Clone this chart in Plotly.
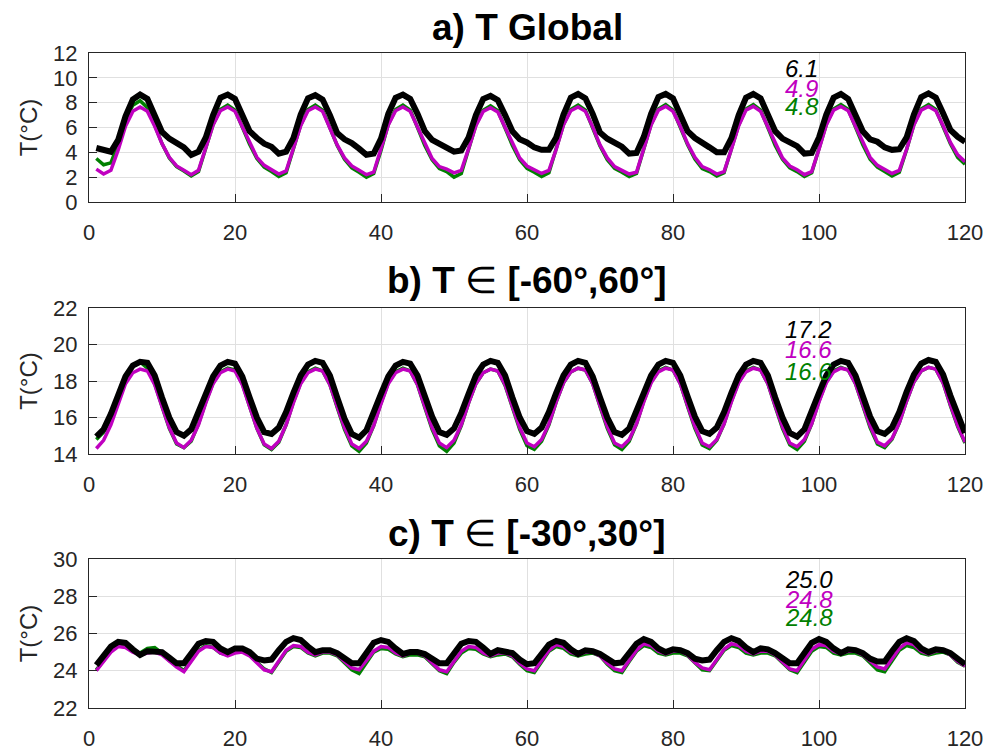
import plotly.graph_objects as go

# ---------------------------------------------------------------------------
# Monthly mean temperature (°C), 10 years x 12 months, three averaging regions
# Series: black = reference, magenta = run M, green = run G
# ---------------------------------------------------------------------------
months = list(range(1, 121))

glob_black = [
    4.35, 4.15, 4.05, 5.00, 6.90, 8.25, 8.65, 8.30, 7.10, 5.65, 5.10, 4.80,
    4.40, 3.80, 4.05, 5.20, 7.00, 8.40, 8.65, 8.30, 7.05, 5.70, 5.15, 4.70,
    4.45, 3.90, 4.05, 5.15, 7.05, 8.35, 8.60, 8.25, 7.00, 5.55, 5.05, 4.75,
    4.30, 3.80, 3.90, 5.10, 7.10, 8.40, 8.65, 8.30, 7.10, 5.70, 5.00, 4.70,
    4.45, 4.05, 4.15, 5.20, 7.00, 8.30, 8.55, 8.20, 7.00, 5.70, 5.05, 4.80,
    4.40, 4.20, 4.20, 5.20, 7.05, 8.40, 8.70, 8.35, 7.10, 5.60, 5.10, 4.75,
    4.45, 3.90, 3.95, 5.25, 7.10, 8.45, 8.70, 8.35, 7.15, 5.70, 5.15, 4.70,
    4.40, 4.00, 4.00, 5.15, 7.00, 8.40, 8.70, 8.35, 7.05, 5.70, 5.10, 4.80,
    4.50, 3.90, 3.95, 5.20, 7.05, 8.40, 8.70, 8.30, 7.10, 5.70, 5.05, 4.85,
    4.40, 4.20, 4.25, 5.20, 7.05, 8.45, 8.75, 8.40, 7.15, 5.80, 5.25, 4.85,
]
glob_magenta = [
    2.65, 2.25, 2.55, 4.20, 6.10, 7.30, 7.65, 7.30, 6.10, 4.70, 3.60, 2.90,
    2.55, 2.20, 2.55, 4.30, 6.20, 7.35, 7.65, 7.30, 6.05, 4.70, 3.60, 2.95,
    2.60, 2.25, 2.50, 4.25, 6.15, 7.35, 7.65, 7.30, 6.00, 4.60, 3.55, 2.90,
    2.55, 2.20, 2.40, 4.20, 6.20, 7.35, 7.65, 7.30, 6.05, 4.65, 3.50, 2.85,
    2.65, 2.35, 2.55, 4.30, 6.15, 7.30, 7.60, 7.25, 6.00, 4.65, 3.55, 2.90,
    2.60, 2.30, 2.55, 4.25, 6.20, 7.35, 7.65, 7.30, 6.05, 4.60, 3.55, 2.85,
    2.55, 2.25, 2.40, 4.25, 6.20, 7.40, 7.70, 7.30, 6.10, 4.70, 3.60, 2.85,
    2.60, 2.25, 2.45, 4.25, 6.15, 7.40, 7.70, 7.30, 6.05, 4.65, 3.55, 2.90,
    2.60, 2.20, 2.45, 4.25, 6.20, 7.40, 7.70, 7.35, 6.10, 4.70, 3.60, 2.95,
    2.60, 2.30, 2.55, 4.25, 6.20, 7.40, 7.70, 7.35, 6.15, 4.80, 3.80, 3.25,
]
glob_green = [
    3.50, 3.00, 3.15, 4.70, 6.60, 7.80, 8.15, 7.60, 6.20, 4.70, 3.55, 2.85,
    2.50, 2.10, 2.45, 4.25, 6.25, 7.45, 7.80, 7.40, 6.05, 4.65, 3.50, 2.80,
    2.45, 2.05, 2.35, 4.20, 6.20, 7.45, 7.80, 7.40, 6.00, 4.55, 3.45, 2.75,
    2.40, 2.00, 2.30, 4.15, 6.25, 7.45, 7.80, 7.40, 6.00, 4.55, 3.40, 2.70,
    2.45, 2.00, 2.30, 4.20, 6.20, 7.40, 7.75, 7.35, 5.95, 4.55, 3.40, 2.70,
    2.40, 2.05, 2.35, 4.20, 6.25, 7.45, 7.80, 7.40, 6.00, 4.50, 3.40, 2.70,
    2.40, 2.05, 2.30, 4.20, 6.25, 7.50, 7.85, 7.40, 6.05, 4.60, 3.45, 2.70,
    2.45, 2.10, 2.35, 4.20, 6.20, 7.50, 7.85, 7.40, 6.00, 4.55, 3.45, 2.75,
    2.45, 2.05, 2.35, 4.20, 6.25, 7.50, 7.85, 7.45, 6.05, 4.60, 3.45, 2.80,
    2.45, 2.10, 2.40, 4.20, 6.25, 7.50, 7.85, 7.45, 6.05, 4.70, 3.60, 3.05,
]

lat60_black = [
    14.95, 15.35, 16.20, 17.30, 18.25, 18.85, 19.05, 19.00, 18.30, 17.10, 16.00, 15.20,
    15.00, 15.35, 16.25, 17.30, 18.25, 18.85, 19.05, 18.95, 18.25, 17.10, 16.00, 15.20,
    15.10, 15.45, 16.30, 17.35, 18.30, 18.90, 19.10, 19.00, 18.30, 17.10, 15.95, 15.10,
    14.90, 15.30, 16.20, 17.30, 18.25, 18.85, 19.05, 18.95, 18.30, 17.15, 16.05, 15.20,
    15.05, 15.40, 16.25, 17.30, 18.30, 18.90, 19.10, 19.00, 18.30, 17.10, 16.00, 15.25,
    15.10, 15.45, 16.30, 17.35, 18.30, 18.90, 19.10, 19.00, 18.25, 17.10, 16.00, 15.20,
    15.05, 15.40, 16.30, 17.35, 18.30, 18.90, 19.10, 19.00, 18.30, 17.15, 16.05, 15.25,
    15.10, 15.45, 16.30, 17.35, 18.30, 18.90, 19.10, 19.00, 18.30, 17.10, 16.00, 15.15,
    14.95, 15.35, 16.25, 17.35, 18.30, 18.90, 19.10, 19.00, 18.30, 17.15, 16.05, 15.25,
    15.10, 15.45, 16.30, 17.40, 18.35, 18.95, 19.15, 19.05, 18.35, 17.20, 16.10, 15.15,
]
lat60_magenta = [
    14.30, 14.75, 15.60, 16.80, 17.85, 18.45, 18.65, 18.55, 17.80, 16.60, 15.45, 14.60,
    14.35, 14.75, 15.60, 16.80, 17.85, 18.45, 18.65, 18.55, 17.80, 16.60, 15.40, 14.55,
    14.30, 14.70, 15.60, 16.80, 17.85, 18.45, 18.65, 18.55, 17.80, 16.60, 15.45, 14.55,
    14.30, 14.70, 15.55, 16.75, 17.85, 18.45, 18.65, 18.55, 17.80, 16.60, 15.45, 14.60,
    14.35, 14.75, 15.60, 16.80, 17.85, 18.45, 18.65, 18.55, 17.80, 16.60, 15.45, 14.60,
    14.40, 14.80, 15.65, 16.85, 17.90, 18.50, 18.70, 18.60, 17.85, 16.65, 15.50, 14.60,
    14.40, 14.80, 15.65, 16.85, 17.90, 18.50, 18.70, 18.60, 17.85, 16.65, 15.50, 14.60,
    14.40, 14.80, 15.65, 16.85, 17.90, 18.50, 18.70, 18.60, 17.85, 16.65, 15.50, 14.60,
    14.40, 14.80, 15.65, 16.85, 17.90, 18.50, 18.70, 18.60, 17.85, 16.70, 15.55, 14.65,
    14.45, 14.85, 15.70, 16.90, 17.95, 18.55, 18.75, 18.65, 17.90, 16.70, 15.55, 14.65,
]
lat60_green = [
    14.80, 15.20, 16.00, 17.10, 18.30, 18.90, 19.05, 18.70, 17.85, 16.60, 15.40, 14.55,
    14.35, 14.70, 15.65, 16.85, 17.90, 18.50, 18.70, 18.60, 17.85, 16.60, 15.40, 14.50,
    14.25, 14.65, 15.60, 16.85, 17.90, 18.50, 18.70, 18.55, 17.80, 16.55, 15.35, 14.45,
    14.15, 14.60, 15.55, 16.80, 17.90, 18.50, 18.70, 18.55, 17.80, 16.55, 15.35, 14.45,
    14.15, 14.60, 15.55, 16.80, 17.85, 18.45, 18.65, 18.55, 17.75, 16.55, 15.35, 14.45,
    14.25, 14.70, 15.60, 16.85, 17.90, 18.50, 18.70, 18.60, 17.85, 16.60, 15.40, 14.50,
    14.25, 14.70, 15.65, 16.90, 17.95, 18.55, 18.75, 18.60, 17.85, 16.60, 15.40, 14.50,
    14.30, 14.75, 15.65, 16.90, 17.95, 18.55, 18.75, 18.60, 17.85, 16.60, 15.40, 14.50,
    14.25, 14.70, 15.65, 16.90, 17.95, 18.55, 18.75, 18.60, 17.85, 16.65, 15.45, 14.55,
    14.35, 14.80, 15.70, 16.90, 17.95, 18.55, 18.75, 18.65, 17.90, 16.65, 15.50, 14.60,
]

lat30_black = [
    24.30, 24.75, 25.30, 25.55, 25.50, 25.15, 24.85, 25.05, 25.05, 25.00, 24.70, 24.40,
    24.40, 24.95, 25.45, 25.60, 25.55, 25.20, 25.00, 25.20, 25.20, 25.00, 24.65, 24.55,
    24.60, 25.10, 25.55, 25.75, 25.65, 25.30, 25.00, 25.10, 25.10, 24.95, 24.65, 24.40,
    24.40, 24.95, 25.50, 25.65, 25.55, 25.20, 24.90, 25.00, 25.00, 24.90, 24.60, 24.40,
    24.40, 24.95, 25.45, 25.60, 25.55, 25.25, 24.90, 25.10, 25.05, 24.95, 24.60, 24.35,
    24.40, 24.95, 25.40, 25.60, 25.50, 25.15, 24.90, 25.10, 25.05, 24.90, 24.60, 24.40,
    24.45, 25.00, 25.45, 25.70, 25.55, 25.20, 25.00, 25.15, 25.10, 24.95, 24.65, 24.55,
    24.60, 25.10, 25.55, 25.75, 25.60, 25.25, 25.00, 25.20, 25.15, 24.95, 24.65, 24.40,
    24.40, 25.00, 25.50, 25.70, 25.55, 25.20, 24.95, 25.15, 25.10, 24.95, 24.65, 24.50,
    24.50, 25.05, 25.55, 25.75, 25.60, 25.20, 25.00, 25.15, 25.10, 24.95, 24.65, 24.35,
]
lat30_magenta = [
    24.00, 24.50, 25.00, 25.30, 25.25, 25.00, 24.85, 24.95, 25.00, 24.85, 24.50, 24.20,
    23.95, 24.50, 25.05, 25.30, 25.25, 24.95, 24.80, 24.95, 25.00, 24.80, 24.40, 24.05,
    23.95, 24.55, 25.10, 25.35, 25.30, 25.00, 24.85, 25.00, 25.00, 24.85, 24.50, 24.15,
    24.05, 24.55, 25.05, 25.30, 25.25, 24.95, 24.80, 24.95, 24.95, 24.80, 24.40, 24.05,
    23.95, 24.50, 25.05, 25.30, 25.25, 24.95, 24.80, 24.95, 24.95, 24.80, 24.40, 24.10,
    24.00, 24.55, 25.10, 25.40, 25.30, 25.00, 24.85, 25.00, 25.00, 24.80, 24.40, 24.10,
    24.00, 24.55, 25.10, 25.45, 25.35, 25.05, 24.90, 25.05, 25.05, 24.85, 24.45, 24.15,
    24.05, 24.60, 25.15, 25.45, 25.35, 25.05, 24.90, 25.05, 25.05, 24.85, 24.45, 24.10,
    24.00, 24.60, 25.15, 25.40, 25.35, 25.05, 24.90, 25.05, 25.05, 24.85, 24.50, 24.20,
    24.10, 24.65, 25.20, 25.50, 25.40, 25.05, 24.90, 25.05, 25.10, 24.85, 24.50, 24.25,
]
lat30_green = [
    24.05, 24.55, 25.05, 25.35, 25.30, 25.05, 24.95, 25.20, 25.25, 24.95, 24.55, 24.30,
    24.00, 24.55, 25.10, 25.35, 25.25, 24.95, 24.85, 25.05, 25.10, 24.85, 24.45, 24.10,
    23.90, 24.50, 25.05, 25.30, 25.25, 24.95, 24.80, 24.95, 24.95, 24.80, 24.40, 24.05,
    23.85, 24.45, 25.00, 25.20, 25.15, 24.90, 24.75, 24.85, 24.85, 24.75, 24.35, 24.00,
    23.85, 24.45, 24.95, 25.20, 25.15, 24.90, 24.75, 24.85, 24.90, 24.75, 24.35, 24.00,
    23.90, 24.50, 25.05, 25.30, 25.20, 24.90, 24.80, 24.90, 24.95, 24.80, 24.35, 24.00,
    23.90, 24.50, 25.05, 25.35, 25.25, 24.95, 24.85, 24.95, 24.95, 24.80, 24.40, 24.05,
    24.00, 24.55, 25.10, 25.35, 25.25, 24.95, 24.85, 24.95, 24.95, 24.80, 24.40, 24.05,
    23.90, 24.50, 25.05, 25.30, 25.25, 24.95, 24.85, 24.95, 24.95, 24.80, 24.40, 24.05,
    23.95, 24.55, 25.10, 25.35, 25.25, 24.95, 24.85, 24.95, 25.00, 24.85, 24.45, 24.25,
]

# Period means written in each panel (black, magenta, green)
glob_means = ["6.1", "4.9", "4.8"]
lat60_means = ["17.2", "16.6", "16.6"]
lat30_means = ["25.0", "24.8", "24.8"]

panel_titles = [
    "<b>a) T Global</b>",
    "<b>b) T</b> \u2208 <b>[-60°,60°]</b>",
    "<b>c) T</b> \u2208 <b>[-30°,30°]</b>",
]
y_ranges = [(0, 12), (14, 22), (22, 30)]
y_ticks = [list(range(0, 13, 2)), list(range(14, 23, 2)), list(range(22, 31, 2))]
x_ticks = list(range(0, 121, 20))

# Colours and line widths
BLACK = "#000000"
MAGENTA = "#C000C0"
GREEN = "#008000"
AXIS = "#262626"
GRID = "#E0E0E0"
FONT = "Liberation Sans, Arial, Helvetica, sans-serif"

W, H = 985, 746
x_left, x_right = 89, 965
panel_px = [(53, 202), (308, 454), (559, 708)]   # (top, bottom) in pixels
title_px = [27, 281, 533]
mean_label_y = [
    (10.76, 9.18, 7.73),
    (20.83, 19.70, 18.51),
    (28.88, 27.82, 26.85),
]

panels = [
    (glob_black, glob_magenta, glob_green, glob_means),
    (lat60_black, lat60_magenta, lat60_green, lat60_means),
    (lat30_black, lat30_magenta, lat30_green, lat30_means),
]

fig = go.Figure()
layout = dict(
    width=W, height=H,
    margin=dict(l=0, r=0, t=0, b=0, autoexpand=False),
    paper_bgcolor="white", plot_bgcolor="white",
    showlegend=False,
    font=dict(family=FONT, color=AXIS, size=22),
)
annotations = []

for i, (blk, mag, grn, means) in enumerate(panels):
    n = "" if i == 0 else str(i + 1)
    xa, ya = "x" + n, "y" + n
    top, bot = panel_px[i]
    # draw order: green under magenta under black
    for vals, col, lw in ((grn, GREEN, 3.5), (mag, MAGENTA, 3.5), (blk, BLACK, 6)):
        fig.add_trace(go.Scatter(
            x=months, y=vals, mode="lines",
            line=dict(color=col, width=lw),
            xaxis=xa, yaxis=ya, hoverinfo="skip",
        ))
    common = dict(
        showline=True, linecolor=AXIS, linewidth=1, mirror=True,
        ticks="inside", ticklen=8, tickwidth=1, tickcolor=AXIS,
        showgrid=True, gridcolor=GRID, gridwidth=1, automargin=False,
        zeroline=False, tickfont=dict(family=FONT, size=22, color=AXIS),
    )
    layout["xaxis" + n] = dict(
        common, domain=[x_left / W, x_right / W], range=[0, 120],
        tickvals=x_ticks, anchor=ya, ticklabelstandoff=11,
    )
    layout["yaxis" + n] = dict(
        common, domain=[1 - bot / H, 1 - top / H], range=list(y_ranges[i]),
        tickvals=y_ticks[i], anchor=xa, ticklabelstandoff=6,
        title=dict(text="T(°C)", font=dict(family=FONT, size=24, color=AXIS), standoff=8),
    )
    annotations.append(dict(
        xref="paper", yref="paper", x=(x_left + x_right) / 2 / W, y=1 - title_px[i] / H,
        text=panel_titles[i], showarrow=False, xanchor="center", yanchor="middle",
        font=dict(family=FONT, size=37, color="#000000"),
    ))
    for txt, col, yv in zip(means, (BLACK, MAGENTA, GREEN), mean_label_y[i]):
        annotations.append(dict(
            xref=xa, yref=ya, x=95, y=yv, text="<i>" + txt + "</i>",
            showarrow=False, xanchor="left", yanchor="middle",
            font=dict(family=FONT, size=24, color=col),
        ))

layout["annotations"] = annotations
fig.update_layout(**layout)
fig.write_html("out.html")
